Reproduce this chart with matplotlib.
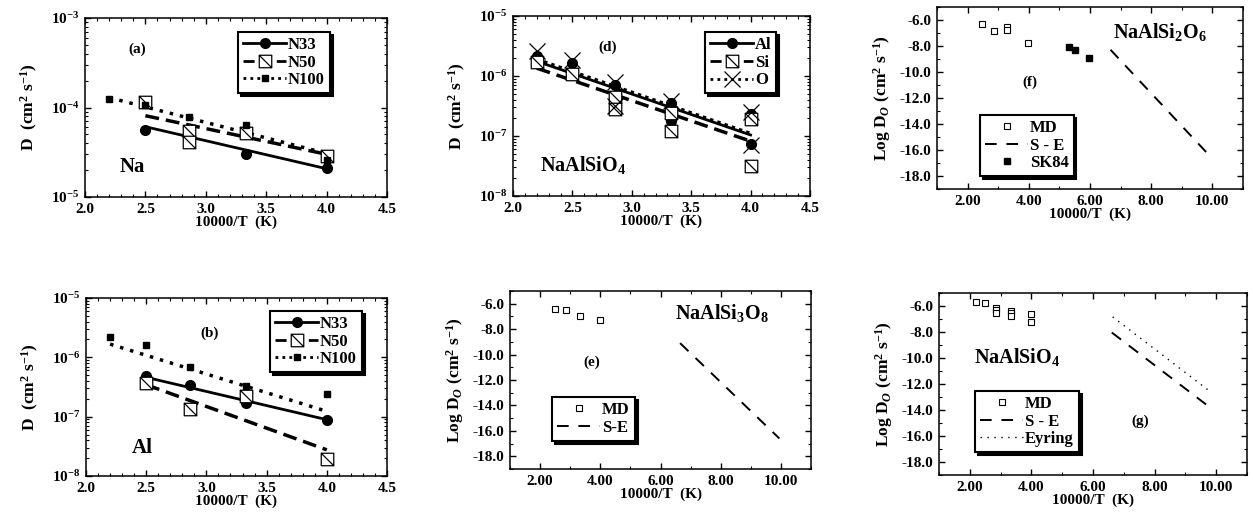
import numpy as np
import matplotlib
matplotlib.use("Agg")
import matplotlib.pyplot as plt
from matplotlib.path import Path
from matplotlib.ticker import FuncFormatter, MultipleLocator, LogLocator, NullFormatter

plt.rcParams['font.family'] = ['Liberation Serif', 'DejaVu Serif']
plt.rcParams['font.weight'] = 'bold'
plt.rcParams['mathtext.fontset'] = 'custom'
plt.rcParams['mathtext.rm'] = 'Liberation Serif:bold'
plt.rcParams['mathtext.it'] = 'Liberation Serif:italic:bold'
plt.rcParams['mathtext.bf'] = 'Liberation Serif:bold'
plt.rcParams['axes.unicode_minus'] = False
plt.rcParams['xtick.direction'] = 'in'
plt.rcParams['ytick.direction'] = 'in'
plt.rcParams['xtick.top'] = True
plt.rcParams['ytick.right'] = True

# ---- data (a) Na
a_n33_x = [2.5, 3.33, 4.0]
a_n33_D = [5.6e-5, 3.0e-5, 2.1e-5]
a_n50_x = [2.5, 2.86, 2.86, 3.33, 4.0]
a_n50_D = [1.15e-4, 5.5e-5, 4.1e-5, 5.2e-5, 2.9e-5]
a_n100_x = [2.2, 2.5, 2.86, 3.33, 4.0]
a_n100_D = [1.24e-4, 1.06e-4, 7.9e-5, 6.3e-5, 2.6e-5]
a_fit_n33 = ([2.5, 4.0], [6.1e-5, 2.07e-5])
a_fit_n50 = ([2.5, 4.0], [8.1e-5, 3.0e-5])
a_fit_n100 = ([2.2, 4.0], [1.29e-4, 3.07e-5])

# ---- data (b) Al
b_n33_x = [2.5, 2.86, 3.33, 4.0]
b_n33_D = [4.9e-7, 3.4e-7, 1.7e-7, 8.7e-8]
b_n50_x = [2.5, 2.86, 3.33, 4.0]
b_n50_D = [3.7e-7, 1.35e-7, 2.2e-7, 1.9e-8]
b_n100_x = [2.2, 2.5, 2.86, 3.33, 4.0]
b_n100_D = [2.17e-6, 1.59e-6, 7.0e-7, 3.25e-7, 2.4e-7]
b_fit_n33 = ([2.5, 4.0], [4.6e-7, 8.9e-8])
b_fit_n50 = ([2.5, 4.0], [3.45e-7, 2.76e-8])
b_fit_n100 = ([2.2, 4.0], [1.67e-6, 1.23e-7])

# ---- data (d) NaAlSiO4
d_al_x = [2.2, 2.5, 2.86, 3.33, 3.33, 4.0, 4.0]
d_al_D = [2.15e-6, 1.65e-6, 7.2e-7, 3.5e-7, 1.77e-7, 2.35e-7, 7.3e-8]
d_si_x = [2.2, 2.5, 2.86, 2.86, 3.33, 3.33, 4.0, 4.0]
d_si_D = [1.69e-6, 1.1e-6, 4.4e-7, 2.8e-7, 2.45e-7, 1.23e-7, 1.95e-7, 3.2e-8]
d_o_x = [2.2, 2.5, 2.86, 2.86, 3.33, 4.0, 4.0]
d_o_D = [2.6e-6, 1.88e-6, 8.0e-7, 3.2e-7, 3.9e-7, 2.55e-7, 7.2e-8]
d_fit_al = ([2.2, 4.0], [1.76e-6, 1.04e-7])
d_fit_si = ([2.2, 4.0], [1.35e-6, 8.2e-8])
d_fit_o = ([2.2, 4.0], [1.9e-6, 1.1e-7])

# ---- data (e) NaAlSi3O8
e_md_x = [2.5, 2.86, 3.33, 4.0]
e_md_logD = [-6.39, -6.52, -6.94, -7.31]
e_se = ([6.65, 9.95], [-9.1, -16.6])

# ---- data (f) NaAlSi2O6
f_md_x = [2.46, 2.86, 3.3, 3.3, 3.98]
f_md_logD = [-6.31, -6.87, -6.57, -6.8, -7.8]
f_sk_x = [5.3, 5.52, 5.97]
f_sk_logD = [-8.06, -8.31, -8.96]
f_se = ([6.67, 10.0], [-8.29, -16.67])

# ---- data (g) NaAlSiO4
g_md_x = [2.2, 2.5, 2.86, 2.86, 2.86, 3.33, 3.33, 3.33, 4.0, 4.0]
g_md_logD = [-5.67, -5.8, -6.13, -6.31, -6.51, -6.38, -6.56, -6.76, -6.64, -7.2]
g_se = ([6.61, 9.83], [-8.04, -13.86])
g_ey = ([6.64, 9.83], [-6.84, -12.63])

# hatched square marker
hsq = Path([(-1, -1), (1, -1), (1, 1), (-1, 1), (-1, -1), (-1, 1), (1, -1)],
           [Path.MOVETO, Path.LINETO, Path.LINETO, Path.LINETO, Path.CLOSEPOLY,
            Path.MOVETO, Path.LINETO])

W, H = 1253, 514
fig = plt.figure(figsize=(W / 100, H / 100), dpi=100)

TICK = 11
XLAB = 11
YLAB = 12.5


def box(l, t, r, b):
    return fig.add_axes([l / W, 1 - b / H, (r - l) / W, (b - t) / H])


def logfmt(v, p):
    return r'$10^{%d}$' % int(round(np.log10(v)))


def style_log(ax, ylim):
    ax.set_yscale('log')
    ax.set_xlim(2.0, 4.5)
    ax.set_ylim(*ylim)
    ax.xaxis.set_major_locator(MultipleLocator(0.5))
    ax.xaxis.set_minor_locator(MultipleLocator(0.1))
    ax.xaxis.set_major_formatter(FuncFormatter(lambda v, p: '%.1f' % v))
    ax.yaxis.set_major_locator(LogLocator(10))
    ax.yaxis.set_minor_locator(LogLocator(10, subs=np.arange(2, 10)))
    ax.yaxis.set_minor_formatter(NullFormatter())
    ax.yaxis.set_major_formatter(FuncFormatter(logfmt))
    ax.set_xlabel('10000/T  (K)', fontsize=XLAB, fontweight='bold', labelpad=0)
    ax.set_ylabel(r'D  (cm$^2$ s$^{-1}$)', fontsize=YLAB, fontweight='bold', labelpad=8)
    common(ax)


def style_lin(ax):
    ax.set_xlim(1, 11)
    ax.set_ylim(-19, -5)
    ax.xaxis.set_major_locator(MultipleLocator(2))
    ax.xaxis.set_minor_locator(MultipleLocator(1))
    ax.yaxis.set_major_locator(MultipleLocator(2))
    ax.yaxis.set_minor_locator(MultipleLocator(1))
    ax.xaxis.set_major_formatter(FuncFormatter(lambda v, p: '%.2f' % v))
    ax.yaxis.set_major_formatter(FuncFormatter(lambda v, p: '%.1f' % v))
    ax.set_xlabel('10000/T  (K)', fontsize=XLAB, fontweight='bold', labelpad=0)
    ax.set_ylabel(r'Log D$_O$ (cm$^2$ s$^{-1}$)', fontsize=YLAB, fontweight='bold', labelpad=5)
    common(ax)


def common(ax):
    for s in ax.spines.values():
        s.set_linewidth(1.1)
    ax.tick_params(which='major', length=4, width=1, labelsize=TICK, pad=4)
    ax.tick_params(which='minor', length=2, width=0.8)
    for lab in ax.get_xticklabels() + ax.get_yticklabels():
        lab.set_fontweight('bold')


def legend(ax, anchor):
    lg = ax.legend(loc='upper left', bbox_to_anchor=anchor, frameon=True, fancybox=False,
                   shadow={'color': 'black', 'alpha': 1}, borderaxespad=0, borderpad=0.3,
                   handlelength=2.6, handletextpad=0.1, labelspacing=0.1,
                   prop={'weight': 'bold', 'size': 12})
    lg.get_frame().set_edgecolor('black')
    lg.get_frame().set_linewidth(1.5)
    return lg


def composition(ax, s33, s50, s100, f33, f50, f100):
    ax.plot(*f33, '-', color='black', lw=2)
    ax.plot(*f50, '--', color='black', lw=2.5, dashes=(4, 2))
    ax.plot(*f100, ':', color='black', lw=2.5, dashes=(1, 2))
    ax.plot(*s33, 'o', color='black', ms=7, ls='none')
    ax.plot(*s50, marker=hsq, mfc='white', mec='black', mew=0.9, ms=9, ls='none')
    ax.plot(*s100, 's', color='black', ms=4.5, ls='none')
    ax.plot([], [], '-', color='black', lw=2, marker='o', ms=7, label='N33')
    ax.plot([], [], '--', color='black', lw=2, dashes=(4, 2), marker=hsq, mfc='white',
            mec='black', mew=0.9, ms=9, label='N50')
    ax.plot([], [], ':', color='black', lw=2, dashes=(1, 1.5), marker='s', ms=4.5, label='N100')


# (a)
ax = box(85, 18, 387, 197)
composition(ax, (a_n33_x, a_n33_D), (a_n50_x, a_n50_D), (a_n100_x, a_n100_D),
            a_fit_n33, a_fit_n50, a_fit_n100)
style_log(ax, (1e-5, 1e-3))
ax.text(2.43, 10 ** -3.35, '(a)', fontsize=11, ha='center', va='center')
ax.text(2.39, 10 ** -4.67, 'Na', fontsize=15, ha='center', va='center')
legend(ax, (0.507, 0.922))

# (b)
ax = box(86, 298, 387, 476)
composition(ax, (b_n33_x, b_n33_D), (b_n50_x, b_n50_D), (b_n100_x, b_n100_D),
            b_fit_n33, b_fit_n50, b_fit_n100)
style_log(ax, (1e-8, 1e-5))
ax.text(3.03, 10 ** -5.59, '(b)', fontsize=11, ha='center', va='center')
ax.text(2.47, 10 ** -7.53, 'Al', fontsize=15, ha='center', va='center')
legend(ax, (0.611, 0.927))

# (d)
ax = box(513, 16, 810, 196)
ax.plot(*d_fit_al, '-', color='black', lw=2)
ax.plot(*d_fit_si, '--', color='black', lw=2.5, dashes=(4, 2))
ax.plot(*d_fit_o, ':', color='black', lw=2.5, dashes=(1, 1.2))
ax.plot(d_al_x, d_al_D, 'o', color='black', ms=7, ls='none')
ax.plot(d_si_x, d_si_D, marker=hsq, mfc='white', mec='black', mew=0.9, ms=9, ls='none')
ax.plot(d_o_x, d_o_D, 'x', color='black', ms=11, mew=0.9, ls='none')
ax.plot([], [], '-', color='black', lw=2, marker='o', ms=7, label='Al')
ax.plot([], [], '--', color='black', lw=2, dashes=(4, 2), marker=hsq, mfc='white',
        mec='black', mew=0.9, ms=9, label='Si')
ax.plot([], [], ':', color='black', lw=2, dashes=(1, 1.5), marker='x', ms=11, mew=0.9, label='O')
style_log(ax, (1e-8, 1e-5))
ax.text(2.8, 10 ** -5.52, '(d)', fontsize=11, ha='center', va='center')
ax.text(2.59, 10 ** -7.48, r'NaAlSiO$_4$', fontsize=14.5, ha='center', va='center')
legend(ax, (0.646, 0.911))

# (e)
ax = box(510, 291, 811, 469)
ax.plot(e_md_x, e_md_logD, 's', mfc='white', mec='black', mew=0.8, ms=5, ls='none', label='MD')
ax.plot(*e_se, color='black', lw=1.4, dashes=(6, 5), label='S-E')
style_lin(ax)
ax.text(8.04, -6.73, r'NaAlSi$_3$O$_8$', fontsize=14.5, ha='center', va='center')
ax.text(3.72, -10.6, '(e)', fontsize=11, ha='center', va='center')
legend(ax, (0.14, 0.404))

# (f)
ax = box(937, 7, 1243, 189)
ax.plot(f_md_x, f_md_logD, 's', mfc='white', mec='black', mew=0.8, ms=5, ls='none', label='MD')
ax.plot(*f_se, color='black', lw=1.4, dashes=(6, 5), label='S - E')
ax.plot(f_sk_x, f_sk_logD, 's', color='black', ms=5, ls='none', label='SK84')
style_lin(ax)
ax.text(8.29, -6.9, r'NaAlSi$_2$O$_6$', fontsize=14.5, ha='center', va='center')
ax.text(4.04, -10.8, '(f)', fontsize=11, ha='center', va='center')
legend(ax, (0.14, 0.407))

# (g)
ax = box(939, 293, 1247, 475)
ax.plot(g_md_x, g_md_logD, 's', mfc='white', mec='black', mew=0.8, ms=5, ls='none', label='MD')
ax.plot(*g_se, color='black', lw=1.4, dashes=(6, 5), label='S - E')
ax.plot(*g_ey, color='black', lw=1.0, dashes=(1, 4), label='Eyring')
style_lin(ax)
ax.text(3.53, -9.92, r'NaAlSiO$_4$', fontsize=14.5, ha='center', va='center')
ax.text(7.53, -14.9, '(g)', fontsize=11, ha='center', va='center')
legend(ax, (0.117, 0.462))

fig.savefig('out.png', dpi=100)
